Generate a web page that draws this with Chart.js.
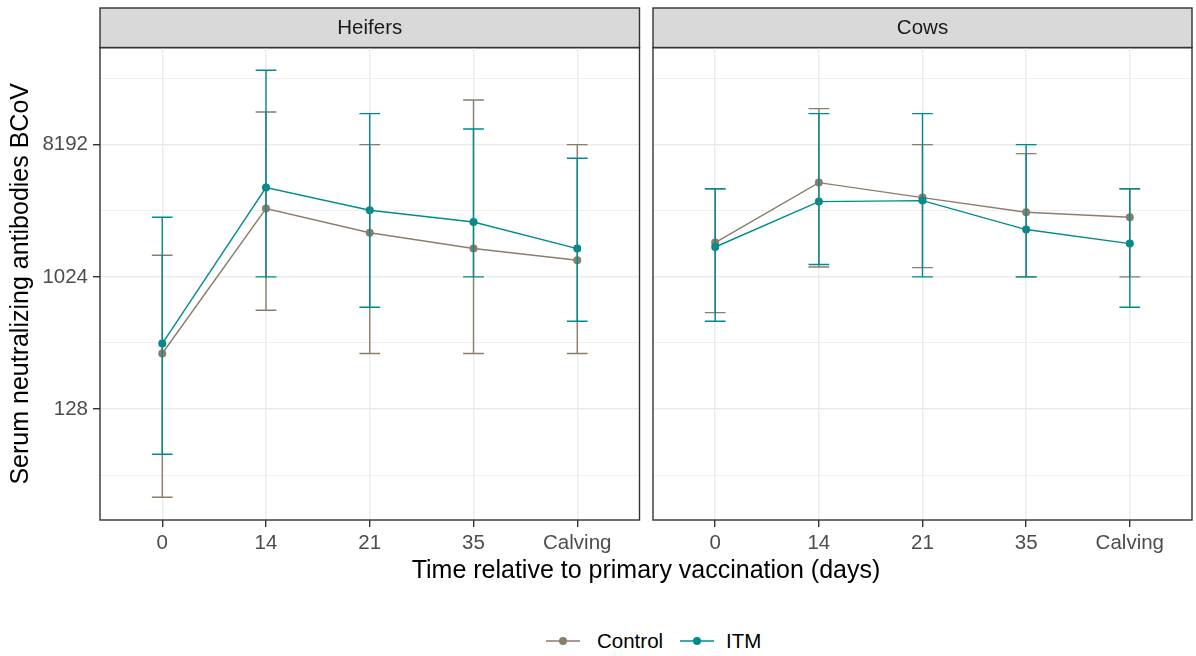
<!DOCTYPE html>
<html>
<head>
<meta charset="utf-8">
<script src="https://cdn.jsdelivr.net/npm/chart.js@4.4.1/dist/chart.umd.min.js"></script>
<style>
  html, body { margin: 0; padding: 0; background: #fff; }
  body { width: 1196px; height: 656px; position: relative; overflow: hidden;
         font-family: "Liberation Sans", Arial, sans-serif; }
  canvas { position: absolute; top: 0; }
  #heifers { left: 0; }
  #cows { left: 646px; }
  .x-title { position: absolute; left: 346px; width: 600px; top: 554px; text-align: center;
             font-size: 25px; line-height: 30px; color: #000; }
  .legend-key { position: absolute; top: 629px; }
  .legend-text { position: absolute; top: 629px; font-size: 20.5px; line-height: 24px; color: #000; }
</style>
</head>
<body>
<canvas id="heifers" width="646" height="570"></canvas>
<canvas id="cows" width="550" height="570"></canvas>
<div class="x-title">Time relative to primary vaccination (days)</div>

<svg class="legend-key" style="left:546px" width="34" height="24">
  <line x1="0" y1="12" x2="34" y2="12" stroke="#8B7D6B" stroke-width="1.4"/>
  <circle cx="17" cy="12" r="4" fill="#8B7D6B"/>
</svg>
<div class="legend-text" style="left:597px">Control</div>
<svg class="legend-key" style="left:680px" width="34" height="24">
  <line x1="0" y1="12" x2="34" y2="12" stroke="#008B8B" stroke-width="1.4"/>
  <circle cx="17" cy="12" r="4" fill="#008B8B"/>
</svg>
<div class="legend-text" style="left:726px">ITM</div>

<script>
'use strict';

// Sampling days (x categories)
const timepoints = ['0', '14', '21', '35', 'Calving'];

// Titer axis: labelled ticks and the unlabelled half-step lines between them
const yMajorTicks = [128, 1024, 8192];
const yMinorTicks = [45.25, 362.04, 2896.31, 23170.48];
const yMin = 22.4;
const yMax = 37640;

// Heifers — geometric mean titers with lower / upper error limits
const heifersControlMean = [307, 2996, 2048, 1598, 1329];
const heifersControlLow  = [32, 606, 307, 307, 307];
const heifersControlHigh = [1438, 13673, 8192, 16500, 8192];
const heifersItmMean     = [359, 4167, 2916, 2427, 1598];
const heifersItmLow      = [63, 1024, 635, 1024, 510];
const heifersItmHigh     = [2612, 26340, 13340, 10470, 6604];

// Cows
const cowsControlMean = [1756, 4507, 3561, 2827, 2612];
const cowsControlLow  = [584, 1196, 1185, 1024, 1024];
const cowsControlHigh = [4096, 14424, 8192, 7112, 4096];
const cowsItmMean     = [1638, 3343, 3397, 2154, 1728];
const cowsItmLow      = [510, 1243, 1024, 1024, 635];
const cowsItmHigh     = [4096, 13340, 13340, 8192, 4096];

const CONTROL_COLOR = '#8B7D6B';
const ITM_COLOR     = '#008B8B';
const FONT_FAMILY   = '"Liberation Sans", Arial, sans-serif';
const GRID_COLOR    = '#EBEBEB';
const DARK          = '#333333';

const isMajor = v => yMajorTicks.some(t => Math.abs(t - v) < 1e-6);

// Vertical error bars with caps, 0.2 category units wide
const errorBarPlugin = {
  id: 'errorBars',
  afterDatasetsDraw(chart) {
    const { ctx, scales: { x, y } } = chart;
    chart.data.datasets.forEach(ds => {
      ctx.save();
      ctx.strokeStyle = ds.borderColor;
      ctx.lineWidth = 1.4;
      ds.data.forEach((pt, i) => {
        const px = x.getPixelForValue(pt.x);
        const half = x.getPixelForValue(pt.x + 0.1) - px;
        const top = y.getPixelForValue(ds.errHigh[i]);
        const bot = y.getPixelForValue(ds.errLow[i]);
        ctx.beginPath();
        ctx.moveTo(px, top); ctx.lineTo(px, bot);
        ctx.moveTo(px - half, top); ctx.lineTo(px + half, top);
        ctx.moveTo(px - half, bot); ctx.lineTo(px + half, bot);
        ctx.stroke();
      });
      ctx.restore();
    });
  },
};

// Grey facet strip behind the title and the dark panel frame
const panelPlugin = {
  id: 'panelFrame',
  beforeDraw(chart) {
    const { ctx, chartArea: a } = chart;
    ctx.save();
    ctx.fillStyle = '#D9D9D9';
    ctx.strokeStyle = DARK;
    ctx.lineWidth = 1.4;
    ctx.fillRect(a.left, 8, a.right - a.left, a.top - 8);
    ctx.strokeRect(a.left, 8, a.right - a.left, a.top - 8);
    ctx.restore();
  },
  afterDraw(chart) {
    const { ctx, chartArea: a } = chart;
    ctx.save();
    ctx.strokeStyle = DARK;
    ctx.lineWidth = 1.4;
    ctx.strokeRect(a.left, a.top, a.right - a.left, a.bottom - a.top);
    ctx.restore();
  },
};

function toPoints(values) {
  return values.map((v, i) => ({ x: i, y: v }));
}

function buildDataset(label, color, mean, low, high, order) {
  return {
    label,
    data: toPoints(mean),
    errLow: low,
    errHigh: high,
    borderColor: color,
    backgroundColor: color,
    borderWidth: 1.4,
    pointRadius: 4,
    pointBorderWidth: 0,
    pointBackgroundColor: color,
    tension: 0,
    order,
  };
}

function makePanel(canvasId, stripLabel, control, itm, withYAxis) {
  const tickFont = { family: FONT_FAMILY, size: 20.5 };
  return new Chart(document.getElementById(canvasId), {
    type: 'line',
    data: {
      datasets: [
        buildDataset('Control', CONTROL_COLOR, ...control, 1),
        buildDataset('ITM', ITM_COLOR, ...itm, 0),
      ],
    },
    options: {
      responsive: false,
      animation: false,
      layout: { padding: withYAxis ? { top: 8, right: 6.5, left: 0, bottom: 0 }
                                   : { top: 8, right: 4, left: 0, bottom: 0 } },
      plugins: {
        legend: { display: false },
        tooltip: { enabled: false },
        title: {
          display: true,
          text: stripLabel,
          fullSize: false,
          color: '#1A1A1A',
          font: { family: FONT_FAMILY, size: 20.5, weight: 'normal' },
          padding: { top: 8, bottom: 7 },
        },
      },
      scales: {
        x: {
          type: 'linear',
          min: -0.6,
          max: 4.6,
          afterBuildTicks: s => { s.ticks = timepoints.map((_, i) => ({ value: i })); },
          afterFit: s => { s.height = 50; },
          ticks: {
            callback: v => timepoints[v],
            color: '#4D4D4D',
            font: tickFont,
            padding: 4,
            maxRotation: 0,
            autoSkip: false,
          },
          grid: { color: GRID_COLOR, lineWidth: 1.4, tickColor: DARK, tickLength: 7 },
          border: { display: false },
        },
        y: {
          type: 'logarithmic',
          min: yMin,
          max: yMax,
          afterBuildTicks: s => {
            s.ticks = [...yMinorTicks, ...yMajorTicks].sort((a, b) => a - b).map(v => ({ value: v }));
          },
          afterFit: s => { s.width = withYAxis ? 100 : 7; },
          ticks: {
            display: withYAxis,
            callback: v => (isMajor(v) ? String(v) : ''),
            color: '#4D4D4D',
            font: tickFont,
            padding: 5,
          },
          grid: {
            color: GRID_COLOR,
            lineWidth: c => (c.tick && !isMajor(c.tick.value) ? 0.8 : 1.4),
            tickColor: c => (c.tick && isMajor(c.tick.value) ? DARK : 'rgba(0,0,0,0)'),
            tickLength: 7,
            drawTicks: withYAxis,
          },
          border: { display: false },
          title: {
            display: withYAxis,
            text: 'Serum neutralizing antibodies BCoV',
            color: '#000',
            font: { family: FONT_FAMILY, size: 25 },
            padding: { top: 6, bottom: 0 },
          },
        },
      },
    },
    plugins: [panelPlugin, errorBarPlugin],
  });
}

makePanel('heifers', 'Heifers',
  [heifersControlMean, heifersControlLow, heifersControlHigh],
  [heifersItmMean, heifersItmLow, heifersItmHigh], true);

makePanel('cows', 'Cows',
  [cowsControlMean, cowsControlLow, cowsControlHigh],
  [cowsItmMean, cowsItmLow, cowsItmHigh], false);
</script>
</body>
</html>
